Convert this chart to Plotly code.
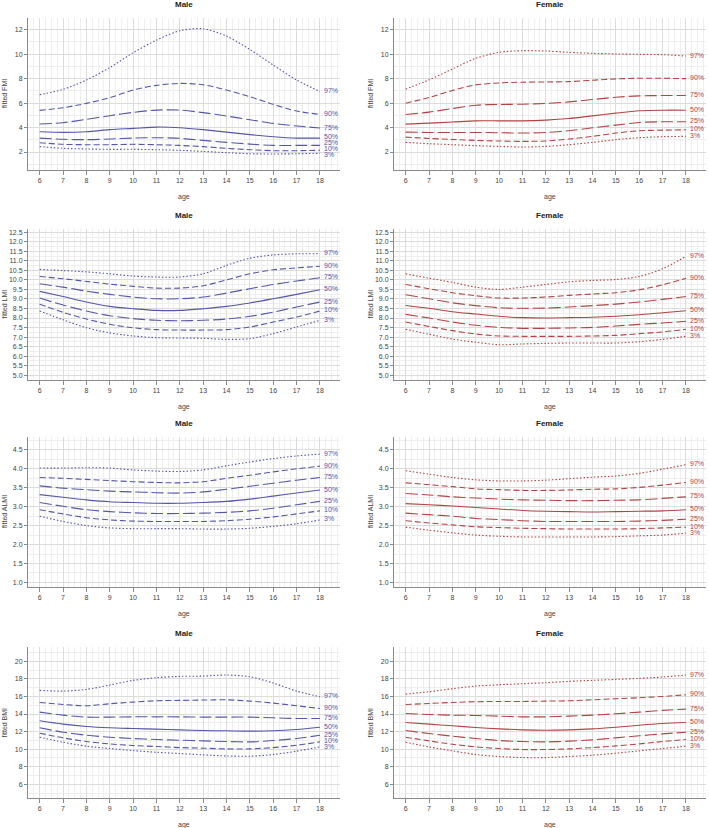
import plotly.graph_objects as go

ages = [6, 7, 8, 9, 10, 11, 12, 13, 14, 15, 16, 17, 18]
pct_labels = ["97%", "90%", "75%", "50%", "25%", "10%", "3%"]
sexes = ["Male", "Female"]
measures = ["FMI", "LMI", "ALMI", "BMI"]

# ---- data: fitted percentile curves ----
male_fmi = {
    "97%": [6.69, 7.12, 7.89, 8.90, 10.12, 11.15, 11.92, 12.08, 11.48, 10.39, 9.11, 7.89, 6.95],
    "90%": [5.41, 5.62, 5.98, 6.44, 7.07, 7.45, 7.61, 7.50, 7.07, 6.52, 5.90, 5.35, 5.08],
    "75%": [4.29, 4.40, 4.67, 4.97, 5.24, 5.43, 5.43, 5.22, 4.94, 4.64, 4.34, 4.13, 3.96],
    "50%": [3.66, 3.61, 3.66, 3.83, 3.93, 4.04, 3.99, 3.83, 3.63, 3.42, 3.25, 3.14, 3.14],
    "25%": [3.14, 3.04, 3.01, 3.06, 3.14, 3.17, 3.12, 2.95, 2.79, 2.65, 2.54, 2.54, 2.54],
    "10%": [2.76, 2.63, 2.60, 2.60, 2.63, 2.60, 2.54, 2.44, 2.30, 2.19, 2.11, 2.11, 2.14],
    "3%":  [2.44, 2.30, 2.25, 2.22, 2.22, 2.19, 2.14, 2.05, 1.95, 1.86, 1.84, 1.86, 1.89],
}
female_fmi = {
    "97%": [7.14, 7.90, 8.79, 9.66, 10.15, 10.29, 10.26, 10.15, 10.07, 10.02, 9.99, 9.96, 9.85],
    "90%": [5.99, 6.46, 7.03, 7.49, 7.65, 7.71, 7.73, 7.76, 7.87, 7.98, 8.03, 8.03, 8.00],
    "75%": [5.07, 5.26, 5.56, 5.83, 5.89, 5.91, 5.97, 6.10, 6.29, 6.48, 6.59, 6.62, 6.62],
    "50%": [4.28, 4.36, 4.45, 4.55, 4.55, 4.55, 4.61, 4.74, 4.96, 5.18, 5.37, 5.42, 5.42],
    "25%": [3.63, 3.60, 3.60, 3.60, 3.58, 3.55, 3.60, 3.74, 3.98, 4.20, 4.42, 4.47, 4.47],
    "10%": [3.22, 3.11, 3.03, 2.95, 2.90, 2.87, 2.90, 3.06, 3.28, 3.55, 3.74, 3.79, 3.82],
    "3%":  [2.79, 2.68, 2.60, 2.52, 2.46, 2.41, 2.46, 2.60, 2.79, 3.01, 3.17, 3.25, 3.28],
}
male_lmi = {
    "97%": [10.55, 10.49, 10.42, 10.32, 10.20, 10.15, 10.15, 10.32, 10.76, 11.14, 11.31, 11.37, 11.37],
    "90%": [10.18, 10.06, 9.92, 9.78, 9.66, 9.57, 9.57, 9.69, 10.00, 10.32, 10.53, 10.63, 10.72],
    "75%": [9.80, 9.62, 9.41, 9.24, 9.10, 9.01, 9.01, 9.10, 9.31, 9.54, 9.76, 9.94, 10.11],
    "50%": [9.40, 9.13, 8.84, 8.61, 8.49, 8.40, 8.40, 8.49, 8.61, 8.79, 9.01, 9.24, 9.48],
    "25%": [9.05, 8.68, 8.37, 8.12, 7.97, 7.88, 7.86, 7.88, 7.95, 8.09, 8.31, 8.58, 8.84],
    "10%": [8.72, 8.30, 7.95, 7.67, 7.49, 7.39, 7.37, 7.37, 7.39, 7.53, 7.79, 8.05, 8.37],
    "3%":  [8.37, 7.91, 7.49, 7.22, 7.06, 6.97, 6.95, 6.94, 6.88, 6.92, 7.18, 7.53, 7.88],
}
female_lmi = {
    "97%": [10.32, 10.09, 9.87, 9.62, 9.50, 9.62, 9.76, 9.90, 9.97, 10.02, 10.18, 10.58, 11.24],
    "90%": [9.76, 9.54, 9.33, 9.17, 9.05, 9.05, 9.10, 9.19, 9.26, 9.33, 9.48, 9.74, 10.08],
    "75%": [9.22, 9.01, 8.80, 8.65, 8.54, 8.51, 8.52, 8.58, 8.65, 8.73, 8.84, 8.98, 9.13],
    "50%": [8.66, 8.51, 8.33, 8.21, 8.09, 8.02, 8.00, 8.02, 8.04, 8.09, 8.17, 8.28, 8.38],
    "25%": [8.19, 8.00, 7.79, 7.62, 7.51, 7.46, 7.46, 7.48, 7.51, 7.58, 7.67, 7.74, 7.83],
    "10%": [7.79, 7.56, 7.34, 7.16, 7.06, 7.04, 7.04, 7.04, 7.06, 7.09, 7.18, 7.27, 7.41],
    "3%":  [7.41, 7.15, 6.90, 6.73, 6.60, 6.64, 6.67, 6.69, 6.69, 6.69, 6.76, 6.88, 7.04],
}
male_almi = {
    "97%": [4.02, 4.02, 4.03, 4.02, 3.97, 3.94, 3.93, 3.97, 4.08, 4.18, 4.27, 4.34, 4.39],
    "90%": [3.77, 3.75, 3.72, 3.69, 3.66, 3.64, 3.63, 3.66, 3.75, 3.83, 3.92, 4.00, 4.07],
    "75%": [3.55, 3.49, 3.45, 3.41, 3.39, 3.37, 3.36, 3.39, 3.46, 3.54, 3.62, 3.70, 3.77],
    "50%": [3.32, 3.25, 3.18, 3.13, 3.11, 3.09, 3.09, 3.11, 3.14, 3.20, 3.28, 3.36, 3.44],
    "25%": [3.11, 3.01, 2.92, 2.87, 2.84, 2.82, 2.82, 2.83, 2.85, 2.89, 2.96, 3.05, 3.14],
    "10%": [2.92, 2.81, 2.71, 2.65, 2.62, 2.61, 2.61, 2.61, 2.63, 2.67, 2.73, 2.81, 2.89],
    "3%":  [2.75, 2.61, 2.50, 2.44, 2.42, 2.42, 2.42, 2.41, 2.41, 2.43, 2.48, 2.55, 2.65],
}
female_almi = {
    "97%": [3.95, 3.86, 3.77, 3.71, 3.68, 3.68, 3.70, 3.74, 3.78, 3.81, 3.88, 3.99, 4.11],
    "90%": [3.63, 3.58, 3.53, 3.47, 3.45, 3.43, 3.43, 3.44, 3.46, 3.47, 3.51, 3.57, 3.64],
    "75%": [3.35, 3.31, 3.26, 3.23, 3.20, 3.18, 3.17, 3.16, 3.16, 3.17, 3.18, 3.22, 3.26],
    "50%": [3.08, 3.05, 3.02, 2.98, 2.94, 2.90, 2.88, 2.87, 2.86, 2.87, 2.88, 2.89, 2.92],
    "25%": [2.83, 2.79, 2.75, 2.69, 2.66, 2.63, 2.61, 2.61, 2.61, 2.61, 2.62, 2.64, 2.67],
    "10%": [2.63, 2.57, 2.52, 2.47, 2.45, 2.43, 2.42, 2.41, 2.41, 2.41, 2.42, 2.44, 2.46],
    "3%":  [2.46, 2.38, 2.31, 2.25, 2.22, 2.20, 2.20, 2.20, 2.20, 2.21, 2.23, 2.25, 2.30],
}
male_bmi = {
    "97%": [16.69, 16.61, 16.80, 17.30, 17.83, 18.13, 18.29, 18.32, 18.44, 18.25, 17.53, 16.61, 15.97],
    "90%": [15.32, 15.09, 14.94, 15.17, 15.36, 15.51, 15.55, 15.59, 15.62, 15.47, 15.24, 14.94, 14.63],
    "75%": [14.22, 13.87, 13.65, 13.65, 13.68, 13.68, 13.68, 13.65, 13.65, 13.65, 13.57, 13.49, 13.49],
    "50%": [13.23, 12.85, 12.58, 12.43, 12.35, 12.28, 12.20, 12.12, 12.09, 12.05, 12.09, 12.24, 12.50],
    "25%": [12.43, 11.93, 11.59, 11.36, 11.21, 11.10, 11.02, 10.94, 10.87, 10.83, 10.98, 11.21, 11.59],
    "10%": [11.82, 11.29, 10.87, 10.60, 10.41, 10.30, 10.18, 10.11, 10.03, 10.03, 10.18, 10.45, 10.83],
    "3%":  [11.36, 10.79, 10.34, 10.07, 9.84, 9.65, 9.50, 9.35, 9.23, 9.20, 9.39, 9.77, 10.26],
}
female_bmi = {
    "97%": [16.27, 16.54, 16.88, 17.18, 17.33, 17.45, 17.56, 17.72, 17.83, 17.94, 18.06, 18.21, 18.44],
    "90%": [15.09, 15.20, 15.32, 15.40, 15.43, 15.43, 15.47, 15.51, 15.62, 15.74, 15.85, 16.00, 16.19],
    "75%": [14.06, 13.95, 13.87, 13.84, 13.76, 13.68, 13.68, 13.76, 13.87, 14.03, 14.22, 14.41, 14.56],
    "50%": [13.04, 12.85, 12.66, 12.47, 12.31, 12.20, 12.16, 12.20, 12.31, 12.50, 12.73, 12.92, 13.04],
    "25%": [12.12, 11.78, 11.48, 11.21, 10.98, 10.87, 10.83, 10.91, 11.06, 11.29, 11.52, 11.74, 11.93],
    "10%": [11.36, 10.94, 10.56, 10.26, 10.07, 9.96, 9.96, 10.03, 10.18, 10.37, 10.60, 10.87, 11.10],
    "3%":  [10.79, 10.26, 9.81, 9.39, 9.16, 9.04, 9.04, 9.16, 9.31, 9.54, 9.81, 10.07, 10.34],
}
ytick_values = {
    "FMI": [2, 4, 6, 8, 10, 12],
    "LMI": [5.0, 5.5, 6.0, 6.5, 7.0, 7.5, 8.0, 8.5, 9.0, 9.5, 10.0, 10.5, 11.0, 11.5, 12.0, 12.5],
    "ALMI": [1.0, 1.5, 2.0, 2.5, 3.0, 3.5, 4.0, 4.5],
    "BMI": [6, 8, 10, 12, 14, 16, 18, 20],
}
ytick_text = {
    "FMI": ["2", "4", "6", "8", "10", "12"],
    "LMI": ["5.0", "5.5", "6.0", "6.5", "7.0", "7.5", "8.0", "8.5", "9.0", "9.5",
            "10.0", "10.5", "11.0", "11.5", "12.0", "12.5"],
    "ALMI": ["1.0", "1.5", "2.0", "2.5", "3.0", "3.5", "4.0", "4.5"],
    "BMI": ["6", "8", "10", "12", "14", "16", "18", "20"],
}

panel_data = {
    ("Male", "FMI"): male_fmi, ("Female", "FMI"): female_fmi,
    ("Male", "LMI"): male_lmi, ("Female", "LMI"): female_lmi,
    ("Male", "ALMI"): male_almi, ("Female", "ALMI"): female_almi,
    ("Male", "BMI"): male_bmi, ("Female", "BMI"): female_bmi,
}

# ---- layout / style ----
W, H = 709, 828
col_px = {"Male": (28, 340), "Female": (394, 706)}
row_px = {"FMI": (18, 170), "LMI": (229, 380), "ALMI": (437, 587), "BMI": (647, 798)}
yranges = {"FMI": [0.53, 12.96], "LMI": [4.75, 12.67], "ALMI": [0.88, 4.84], "BMI": [4.44, 21.63]}
yminor = {"FMI": 1, "LMI": 0.25, "ALMI": 0.25, "BMI": 1}
xrange_ = [5.5, 18.86]
colors = {"Male": "#5656a8", "Female": "#b24444"}
dashes = {"97%": "1.5px,2px", "90%": "6px,3px", "75%": "12px,4px", "50%": "solid",
          "25%": "12px,4px", "10%": "6px,3px", "3%": "1.5px,2px"}
FONT = "Liberation Sans, Arial, sans-serif"
GRID = "#dcdcdc"
GRID_MINOR = "#efefef"
AXIS = "#8a8a8a"
TXT = "#444444"

fig = go.Figure()
annotations = []
idx = 0
for m in measures:
    T, B = row_px[m]
    for s in sexes:
        idx += 1
        L, R = col_px[s]
        xa = "x" if idx == 1 else f"x{idx}"
        ya = "y" if idx == 1 else f"y{idx}"
        xkey = "xaxis" if idx == 1 else f"xaxis{idx}"
        ykey = "yaxis" if idx == 1 else f"yaxis{idx}"
        data = panel_data[(s, m)]
        for p in pct_labels:
            fig.add_trace(go.Scatter(
                x=ages, y=data[p], mode="lines", xaxis=xa, yaxis=ya,
                line=dict(color=colors[s], width=1.1, dash=dashes[p], shape="spline", smoothing=0.8),
                showlegend=False, hoverinfo="skip"))
        fig.layout[xkey] = dict(
            domain=[L / W, R / W], range=xrange_, anchor=ya, automargin=False,
            tickvals=ages, ticktext=[str(a) for a in ages],
            showline=True, linecolor=AXIS, linewidth=1, ticks="outside", ticklen=4,
            tickcolor=AXIS, tickfont=dict(size=7, color=TXT, family=FONT),
            showgrid=True, gridcolor=GRID, gridwidth=1, zeroline=False,
            minor=dict(dtick=0.25, tick0=6, showgrid=True, gridcolor=GRID_MINOR, ticks=""),
            fixedrange=True)
        yr = yranges[m]
        fig.layout[ykey] = dict(
            domain=[1 - B / H, 1 - T / H], range=yr, anchor=xa, automargin=False,
            tickvals=ytick_values[m], ticktext=ytick_text[m],
            showline=True, linecolor=AXIS, linewidth=1, ticks="outside", ticklen=3,
            tickcolor=AXIS, tickfont=dict(size=7, color=TXT, family=FONT),
            showgrid=True, gridcolor=GRID, gridwidth=1, zeroline=False,
            minor=dict(dtick=yminor[m], tick0=ytick_values[m][0], showgrid=True,
                       gridcolor=GRID_MINOR, ticks=""),
            fixedrange=True)
        # panel title
        annotations.append(dict(
            text=f"<b>{s}</b>", x=(L + R) / 2 / W, y=1 - (T - 14) / H, xref="paper", yref="paper",
            xanchor="center", yanchor="middle", showarrow=False,
            font=dict(size=8, color="#222222", family=FONT)))
        # x title
        annotations.append(dict(
            text="age", x=(L + R) / 2 / W, y=1 - (B + 27) / H, xref="paper", yref="paper",
            xanchor="center", yanchor="middle", showarrow=False,
            font=dict(size=7, color=TXT, family=FONT)))
        # y title
        annotations.append(dict(
            text=f"fitted {m}", x=(L - 24) / W, y=1 - (T + B) / 2 / H, xref="paper", yref="paper",
            xanchor="center", yanchor="middle", showarrow=False, textangle=-90,
            font=dict(size=7, color=TXT, family=FONT)))
        # percentile labels at right end with simple repel
        ppu = (B - T) / (yr[1] - yr[0])
        ends = [data[p][-1] for p in pct_labels]
        py = [B - (v - yr[0]) * ppu - 1 for v in ends]
        gap = 5.9
        for _ in range(200):
            moved = False
            for i in range(len(py) - 1):
                d = py[i + 1] - py[i]
                if d < gap - 1e-6:
                    sh = (gap - d) / 2
                    py[i] -= sh
                    py[i + 1] += sh
                    moved = True
            if not moved:
                break
        for p, yp in zip(pct_labels, py):
            annotations.append(dict(
                text=p, x=18, y=yr[0] + (B - yp) / ppu, xref=xa, yref=ya,
                xanchor="left", yanchor="middle", xshift=2, showarrow=False,
                font=dict(size=7, color=colors[s], family=FONT)))

fig.update_layout(
    width=W, height=H, margin=dict(l=0, r=0, t=0, b=0, pad=0),
    paper_bgcolor="white", plot_bgcolor="white",
    annotations=annotations, showlegend=False)

fig.write_html(
    "out.html",
    config={"displayModeBar": False},
    post_script="document.body.style.margin='0px';document.body.style.padding='0px';"
                "document.body.style.overflow='hidden';")
